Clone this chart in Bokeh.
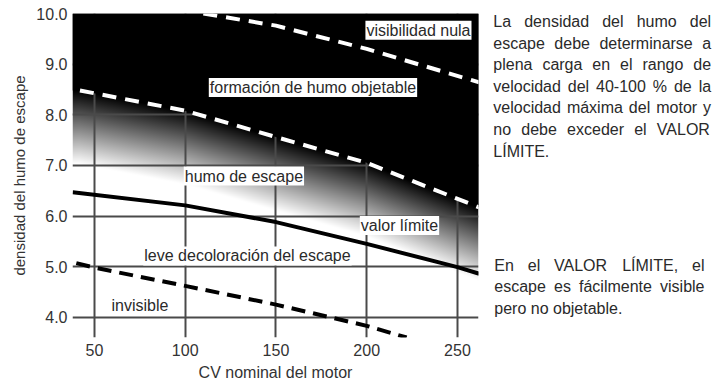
import numpy as np
from bokeh.plotting import figure
from bokeh.models import Range1d, PrintfTickFormatter, Label
from bokeh.layouts import row
from bokeh.core.properties import value
from bokeh.embed import file_html
from bokeh.resources import INLINE

# ---------------- data ----------------
X_TICKS = [50, 100, 150, 200, 250]
Y_TICKS = [4.0, 5.0, 6.0, 7.0, 8.0, 9.0, 10.0]

# boundary "visibilidad nula"
NULA_X = [110, 150, 200, 262]
NULA_Y = [10.0, 9.76, 9.30, 8.64]
# boundary "formación de humo objetable"
OBJ_X = [42, 100, 150, 200, 262]
OBJ_Y = [8.48, 8.08, 7.56, 7.05, 6.17]
# "valor límite"
LIM_X = [38, 100, 150, 200, 250, 262]
LIM_Y = [6.47, 6.21, 5.88, 5.45, 4.99, 4.86]
# boundary "invisible"
INV_X = [40, 50, 100, 150, 200, 222]
INV_Y = [5.07, 4.98, 4.62, 4.25, 3.83, 3.60]

ZONE_TEXT = ["visibilidad nula", "formación de humo objetable", "humo de escape",
             "valor límite", "leve decoloración del escape", "invisible"]

X_LABEL = "CV nominal del motor"
Y_LABEL = "densidad del humo de escape"

PARA1 = ["La densidad del humo del",
         "escape debe determinarse a",
         "plena carga en el rango de",
         "velocidad del 40-100 % de la",
         "velocidad máxima del motor y",
         "no debe exceder el VALOR",
         "LÍMITE."]
PARA2 = ["En el VALOR LÍMITE, el",
         "escape es fácilmente visible",
         "pero no objetable."]

# ---------------- styles ----------------
FONT = "Liberation Sans"
TXT = "#2a2a2a"
X0, X1 = 37.9, 261.6
Y0, Y1 = 3.6, 10.0
TOP, BOT = 13, 48

p = figure(width=480, height=385, x_range=Range1d(X0, X1), y_range=Range1d(Y0, Y1),
           output_backend="svg", toolbar_location=None,
           min_border_left=72, min_border_right=2, min_border_top=TOP, min_border_bottom=BOT)
p.outline_line_color = None
p.background_fill_color = "white"
p.border_fill_color = "white"

# gradient background below the "objetable" boundary
NX, NY = 406, 324
xs = X0 + (np.arange(NX) + 0.5) * (X1 - X0) / NX
ys = Y0 + (np.arange(NY) + 0.5) * (Y1 - Y0) / NY
XX, YY = np.meshgrid(xs, ys)
D = np.interp(XX, OBJ_X, OBJ_Y)
bright = np.clip((D - YY) / 1.45, 0, 1)
g = (bright * 255).astype(np.uint8)
img = np.empty((NY, NX), dtype=np.uint32)
v = img.view(dtype=np.uint8).reshape((NY, NX, 4))
v[..., 0] = g
v[..., 1] = g
v[..., 2] = g
v[..., 3] = 255
p.image_rgba(image=[img], x=X0, y=Y0, dw=X1 - X0, dh=Y1 - Y0, level="image")

# grid
p.xgrid.ticker = X_TICKS
p.ygrid.ticker = Y_TICKS
for gr in (p.xgrid[0], p.ygrid[0]):
    gr.grid_line_color = "#4a4a4a"
    gr.grid_line_width = 2

# black zone above the objetable boundary (covers grid)
bx = np.concatenate([[X0], OBJ_X])
by = np.interp(bx, OBJ_X, OBJ_Y)
p.varea(x=bx, y1=by, y2=Y1, fill_color="black")

# axes
p.xaxis.ticker = X_TICKS
p.yaxis.ticker = Y_TICKS
p.yaxis.formatter = PrintfTickFormatter(format="%.1f")
for ax in (p.xaxis[0], p.yaxis[0]):
    ax.axis_line_color = None
    ax.major_tick_line_color = None
    ax.minor_tick_line_color = None
    ax.major_tick_out = 0
    ax.major_tick_in = 0
    ax.major_label_text_font = FONT
    ax.major_label_text_font_size = "16px"
    ax.major_label_text_color = "#333333"
    ax.axis_label_text_font = FONT
    ax.axis_label_text_font_style = "normal"
    ax.axis_label_text_color = "#333333"
p.xaxis.axis_label = X_LABEL
p.yaxis.axis_label = Y_LABEL
p.xaxis.axis_label_text_font_size = "16px"
p.yaxis.axis_label_text_font_size = "15px"
p.xaxis.major_label_standoff = 6
p.yaxis.major_label_standoff = 5
p.xaxis.axis_label_standoff = 5
p.yaxis.axis_label_standoff = 5

# lines
p.line(NULA_X, NULA_Y, line_color="white", line_width=4, line_dash="14 9")
p.line(OBJ_X, OBJ_Y, line_color="white", line_width=4, line_dash="14 9")
p.line(LIM_X, LIM_Y, line_color="black", line_width=4)
p.line(INV_X, INV_Y, line_color="black", line_width=4, line_dash="14 8")

# zone labels
LBL_POS = [(199.3, 9.67), (113.0, 8.54), (99.2, 6.79), (196.2, 5.81), (76.9, 5.21), (58.8, 4.24)]
for txt, (lx, ly) in zip(ZONE_TEXT, LBL_POS):
    p.add_layout(Label(x=lx, y=ly, text=txt, text_font=FONT, text_font_size="16px",
                       text_color=TXT, text_baseline="middle", text_align="left",
                       background_fill_color="white", padding=1))

# ---------------- right-hand text ----------------
t = figure(width=234, height=385, x_range=Range1d(0, 234), y_range=Range1d(385 - BOT, TOP),
           output_backend="svg", toolbar_location=None,
           min_border_left=0, min_border_right=0, min_border_top=TOP, min_border_bottom=BOT,
           x_axis_location=None, y_axis_location=None)
t.grid.visible = False
t.outline_line_color = None

AW = {' ': 278, ',': 278, '.': 278, '-': 333, '%': 889}
for c in '0123456789':
    AW[c] = 556
AW.update(dict(a=556, b=556, c=500, d=556, e=556, f=278, g=556, h=556, i=222, j=222, k=500,
               l=222, m=833, n=556, o=556, p=556, q=556, r=333, s=500, t=278, u=556, v=500,
               w=722, x=500, y=500, z=500))
AW.update({'A': 667, 'E': 667, 'I': 278, 'L': 556, 'M': 833, 'O': 778, 'R': 722, 'T': 611,
           'V': 667, 'á': 556, 'é': 556, 'í': 278, 'ó': 556, 'ú': 556, 'Í': 278})
FS = 16


def wpx(s):
    return sum(AW.get(ch, 556) for ch in s) * FS / 1000.0


wx, wy, wt = [], [], []


def place(lines, left, right, base, step):
    for k, line in enumerate(lines):
        words = line.split(" ")
        y = base + k * step
        last = k == len(lines) - 1
        if last or len(words) == 1:
            gap = AW[' '] * FS / 1000.0
        else:
            gap = (right - left - sum(wpx(w) for w in words)) / (len(words) - 1)
        x = left
        for w in words:
            wx.append(x)
            wy.append(y)
            wt.append(w)
            x += wpx(w) + gap


place(PARA1, 12.8, 230.6, 21.0, 21.6)
place(PARA2, 13.8, 224.0, 264.5, 21.6)

t.text(x=wx, y=wy, text=wt, text_font=value(FONT), text_font_size=value("16px"),
       text_color="#2a2a2a", text_baseline="alphabetic", text_align="left")

layout = row(p, t)
open("out.html", "w").write(file_html(layout, INLINE))
